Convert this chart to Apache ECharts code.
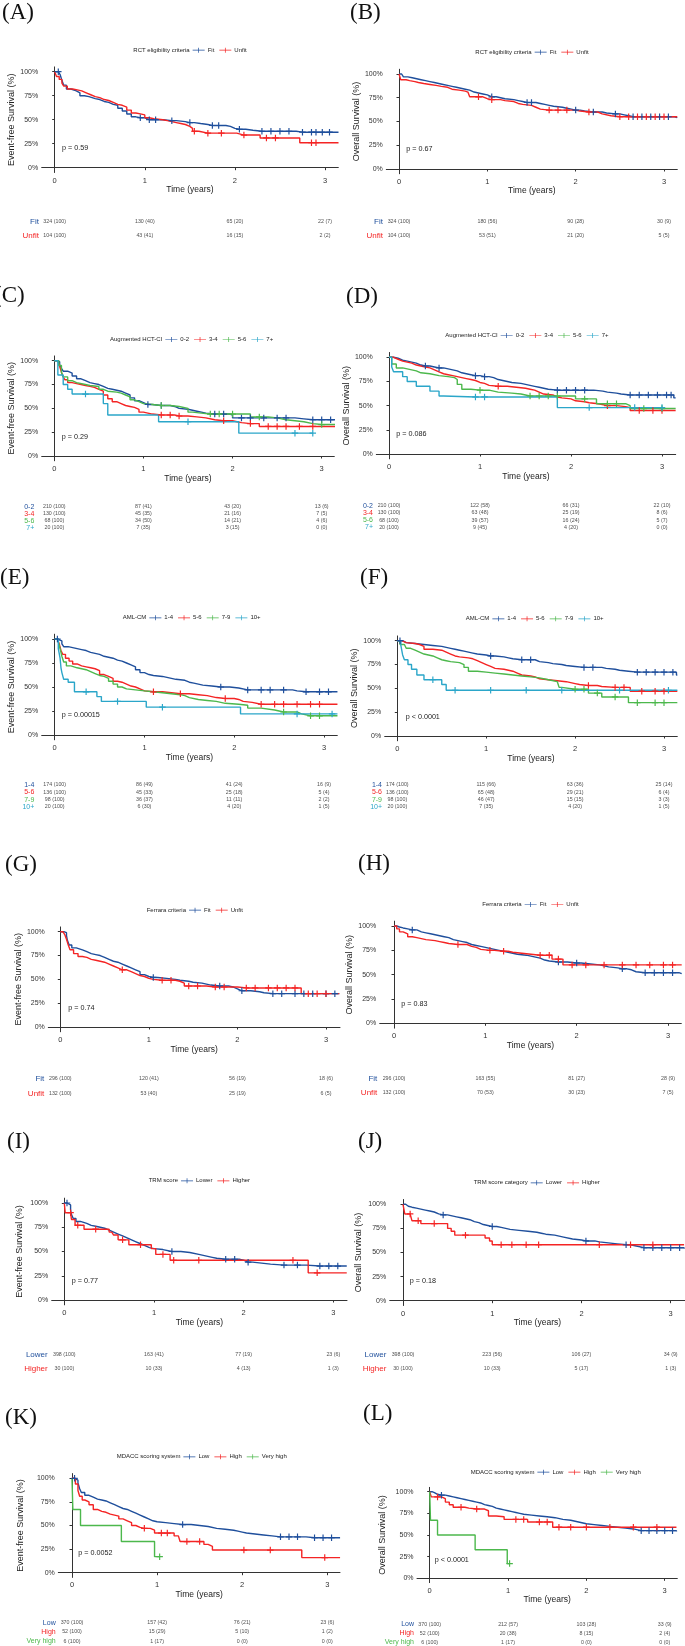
<!DOCTYPE html>
<html>
<head>
<meta charset="utf-8">
<script src="https://cdn.jsdelivr.net/npm/echarts@6/dist/echarts.min.js"></script>
<style>
  html, body { margin: 0; padding: 0; background: #fff; }
  #chart { width: 685px; height: 1646px; }
</style>
</head>
<body>
<div id="chart"></div>
<script>
const xTicks = [0, 1, 2, 3];
const yTicks = [0, 25, 50, 75, 100];
const riskTimes = [0, 1, 2, 3];

// KM curves as [time (years), survival %]; a point repeating the previous value is a censor mark
const A_fit = [[0,100],[0.04,100],[0.06,97],[0.08,91],[0.1,86],[0.13,82],[0.18,80],[0.24,78],[0.28,75],[0.33,74],[0.38,72],[0.45,71],[0.5,69],[0.55,68],[0.6,66],[0.65,65],[0.7,62],[0.75,59],[0.8,56],[0.85,53],[0.9,52],[0.95,52],[1.0,50],[1.05,50],[1.12,50],[1.2,49],[1.3,49],[1.35,48],[1.45,47],[1.5,47],[1.55,46],[1.62,45],[1.7,44],[1.75,44],[1.82,44],[1.9,43],[1.95,41],[2.0,40],[2.05,40],[2.12,39],[2.2,38],[2.3,38],[2.4,38],[2.5,38],[2.6,38],[2.68,37],[2.75,37],[2.85,37],[2.9,37],[2.97,37],[3.05,37],[3.15,37]];
const A_unfit = [[0,100],[0.02,95],[0.05,92],[0.08,88],[0.1,85],[0.14,82],[0.2,81],[0.25,80],[0.3,78],[0.35,76],[0.4,74],[0.45,73],[0.5,71],[0.55,70],[0.6,68],[0.65,66],[0.7,65],[0.75,63],[0.8,60],[0.85,57],[0.9,56],[0.95,55],[1.0,52],[1.05,51],[1.1,50],[1.2,49],[1.25,48],[1.3,47],[1.35,46],[1.4,45],[1.45,43],[1.5,41],[1.53,38],[1.55,38],[1.6,36],[1.7,36],[1.85,36],[2.02,34],[2.1,34],[2.28,31],[2.35,31],[2.45,31],[2.72,26],[2.85,26],[2.9,26],[3.15,26]];
const B_fit = [[0,100],[0.03,99],[0.05,97],[0.1,96],[0.15,95],[0.2,94],[0.25,93],[0.3,92],[0.35,91],[0.4,89],[0.5,88],[0.55,87],[0.6,86],[0.65,85],[0.7,84],[0.75,83],[0.8,81],[0.85,80],[0.9,79],[0.95,78],[1.0,76],[1.05,76],[1.1,75],[1.15,74],[1.2,73],[1.3,72],[1.35,71],[1.4,70],[1.45,70],[1.5,70],[1.55,69],[1.6,68],[1.65,67],[1.7,66],[1.75,65],[1.85,64],[1.9,63],[1.95,62],[2.0,62],[2.05,61],[2.1,60],[2.2,60],[2.3,59],[2.35,58],[2.45,58],[2.5,57],[2.55,56],[2.6,55],[2.65,55],[2.75,55],[2.85,55],[2.95,55],[3.05,55],[3.12,54],[3.15,54]];
const B_unfit = [[0,100],[0.02,94],[0.08,93],[0.12,92],[0.18,91],[0.22,90],[0.28,89],[0.35,88],[0.42,87],[0.48,86],[0.55,84],[0.6,83],[0.68,82],[0.75,81],[0.78,79],[0.8,76],[0.9,76],[0.95,74],[1.0,73],[1.05,73],[1.15,72],[1.2,71],[1.3,69],[1.35,68],[1.4,67],[1.5,65],[1.55,63],[1.6,62],[1.7,62],[1.8,62],[1.9,62],[2.0,61],[2.05,60],[2.15,60],[2.25,58],[2.3,56],[2.4,55],[2.5,55],[2.6,55],[2.7,55],[2.8,55],[2.9,55],[3.0,55],[3.15,55]];
const C_02 = [[0,100],[0.03,99],[0.06,96],[0.08,92],[0.1,89],[0.15,87],[0.2,84],[0.25,81],[0.3,79],[0.35,77],[0.4,76],[0.45,75],[0.5,73],[0.55,71],[0.6,70],[0.65,69],[0.7,68],[0.75,66],[0.8,64],[0.85,61],[0.9,58],[0.95,56],[1.0,54],[1.05,54],[1.1,53],[1.2,53],[1.3,52],[1.35,50],[1.4,49],[1.5,48],[1.55,47],[1.6,46],[1.65,45],[1.7,44],[1.8,44],[1.9,44],[1.97,43],[2.0,40],[2.1,40],[2.2,40],[2.35,40],[2.5,40],[2.6,40],[2.7,39],[2.8,38],[2.9,38],[3.0,38],[3.1,38],[3.15,38]];
const C_34 = [[0,100],[0.04,98],[0.06,94],[0.08,88],[0.1,83],[0.12,80],[0.15,77],[0.2,76],[0.25,75],[0.3,74],[0.35,73],[0.4,72],[0.45,70],[0.5,68],[0.55,64],[0.6,60],[0.65,57],[0.7,55],[0.75,53],[0.8,52],[0.85,51],[0.9,49],[0.95,46],[1.0,45],[1.05,44],[1.1,43],[1.2,43],[1.3,43],[1.35,42],[1.4,42],[1.5,41],[1.6,40],[1.7,38],[1.8,37],[1.9,37],[2.0,36],[2.05,35],[2.1,34],[2.2,34],[2.3,31],[2.4,31],[2.5,31],[2.6,31],[2.75,31],[2.9,31],[3.15,31]];
const C_56 = [[0,100],[0.05,95],[0.08,88],[0.1,83],[0.15,79],[0.2,77],[0.25,75],[0.35,74],[0.4,73],[0.5,70],[0.55,68],[0.6,67],[0.7,66],[0.75,64],[0.8,62],[0.85,59],[0.9,57],[0.95,55],[1.0,54],[1.1,53],[1.2,53],[1.3,52],[1.4,50],[1.5,46],[1.55,45],[1.65,44],[1.75,44],[1.85,44],[2.0,44],[2.2,41],[2.3,41],[2.4,40],[2.5,38],[2.6,37],[2.7,36],[2.8,34],[2.9,33],[3.0,33],[3.15,33]];
const C_7 = [[0,100],[0.04,85],[0.1,75],[0.15,70],[0.2,65],[0.35,65],[0.55,55],[0.6,43],[1.17,36],[1.5,36],[2.07,24],[2.7,24],[2.9,24]];
const D_02 = [[0,100],[0.05,99],[0.1,97],[0.15,96],[0.2,95],[0.25,94],[0.3,92],[0.35,91],[0.4,91],[0.45,90],[0.5,89],[0.55,89],[0.6,88],[0.65,87],[0.7,86],[0.75,84],[0.8,83],[0.85,82],[0.9,81],[0.95,81],[1.0,80],[1.05,80],[1.1,79],[1.15,77],[1.2,75],[1.3,74],[1.35,73],[1.45,72],[1.5,71],[1.55,70],[1.6,69],[1.65,68],[1.7,67],[1.75,66],[1.85,66],[1.95,66],[2.05,66],[2.15,66],[2.25,65],[2.35,64],[2.4,63],[2.5,62],[2.55,61],[2.65,61],[2.75,61],[2.85,61],[2.95,61],[3.05,61],[3.1,61],[3.13,58],[3.15,58]];
const D_34 = [[0,100],[0.05,98],[0.1,96],[0.15,95],[0.2,94],[0.25,92],[0.3,91],[0.35,90],[0.4,89],[0.45,87],[0.5,85],[0.55,83],[0.6,82],[0.65,81],[0.7,80],[0.75,79],[0.8,78],[0.85,77],[0.9,76],[0.95,74],[1.0,73],[1.05,71],[1.1,70],[1.2,70],[1.3,69],[1.4,68],[1.5,67],[1.55,66],[1.6,64],[1.65,62],[1.7,61],[1.8,59],[1.85,58],[1.9,57],[2.0,55],[2.05,54],[2.15,53],[2.2,52],[2.3,50],[2.4,50],[2.5,49],[2.6,48],[2.65,45],[2.75,45],[2.9,45],[3.0,45],[3.15,45]];
const D_56 = [[0,100],[0.03,93],[0.08,89],[0.15,88],[0.2,86],[0.3,84],[0.35,83],[0.45,81],[0.55,80],[0.65,79],[0.72,77],[0.75,72],[0.8,67],[0.9,66],[1.0,66],[1.1,64],[1.2,63],[1.35,62],[1.45,60],[1.55,60],[1.65,60],[1.75,60],[1.85,60],[2.05,57],[2.15,57],[2.28,52],[2.4,52],[2.5,52],[2.6,50],[2.65,47],[2.8,47],[3.0,47],[3.15,47]];
const D_7 = [[0,100],[0.03,90],[0.05,85],[0.15,80],[0.2,75],[0.3,70],[0.45,65],[0.55,60],[0.6,59],[0.95,59],[1.05,59],[1.85,48],[2.2,48],[2.7,48],[3.0,48]];
const E_14 = [[0,100],[0.03,100],[0.05,98],[0.08,95],[0.1,92],[0.15,91],[0.2,90],[0.25,89],[0.3,88],[0.35,86],[0.4,85],[0.45,84],[0.5,82],[0.55,81],[0.6,80],[0.65,78],[0.7,77],[0.75,75],[0.8,73],[0.85,71],[0.9,68],[0.95,65],[1.0,63],[1.05,62],[1.1,61],[1.2,60],[1.25,59],[1.3,58],[1.35,57],[1.45,55],[1.5,54],[1.55,53],[1.6,52],[1.65,51],[1.75,50],[1.85,50],[1.95,49],[2.05,47],[2.15,47],[2.3,47],[2.4,47],[2.55,47],[2.65,46],[2.7,45],[2.8,45],[2.95,45],[3.05,45],[3.15,45]];
const E_56 = [[0,100],[0.03,99],[0.05,95],[0.07,88],[0.09,84],[0.12,80],[0.16,77],[0.2,74],[0.25,72],[0.3,71],[0.35,70],[0.4,69],[0.45,67],[0.5,63],[0.55,61],[0.6,59],[0.65,56],[0.7,55],[0.75,53],[0.8,51],[0.85,50],[0.9,48],[0.95,46],[1.0,45],[1.1,45],[1.2,44],[1.3,43],[1.4,43],[1.5,42],[1.6,41],[1.7,39],[1.8,38],[1.9,38],[2.0,37],[2.05,35],[2.1,34],[2.2,32],[2.3,32],[2.45,32],[2.55,32],[2.7,32],[2.85,32],[2.95,32],[3.15,32]];
const E_79 = [[0,100],[0.04,97],[0.06,90],[0.08,82],[0.1,76],[0.13,72],[0.18,70],[0.25,69],[0.3,68],[0.35,66],[0.4,64],[0.45,62],[0.5,61],[0.55,59],[0.6,56],[0.65,53],[0.7,50],[0.75,48],[0.8,47],[0.9,46],[1.0,45],[1.1,44],[1.2,43],[1.3,42],[1.4,41],[1.45,39],[1.5,37],[1.6,36],[1.7,35],[1.8,33],[1.9,32],[2.05,31],[2.15,28],[2.3,26],[2.45,24],[2.55,24],[2.7,22],[2.75,20],[2.85,20],[2.95,20],[3.15,20]];
const E_10 = [[0,100],[0.04,90],[0.06,80],[0.07,70],[0.08,65],[0.1,58],[0.15,55],[0.22,45],[0.35,45],[0.47,40],[0.52,35],[0.7,35],[1.02,29],[1.2,29],[2.07,22],[2.7,22],[3.09,22],[3.15,22]];
const F_14 = [[0,100],[0.03,100],[0.06,98],[0.1,97],[0.2,96],[0.3,95],[0.4,94],[0.5,93],[0.55,92],[0.6,91],[0.65,90],[0.7,89],[0.75,88],[0.8,87],[0.85,86],[0.9,85],[1.0,84],[1.05,84],[1.1,83],[1.2,82],[1.25,81],[1.3,80],[1.4,80],[1.5,80],[1.55,78],[1.6,77],[1.7,76],[1.75,75],[1.85,74],[1.9,73],[2.0,72],[2.1,72],[2.2,72],[2.3,71],[2.35,70],[2.45,69],[2.5,68],[2.6,67],[2.7,67],[2.8,67],[2.9,67],[3.0,67],[3.1,67],[3.14,64],[3.15,64]];
const F_56 = [[0,100],[0.05,98],[0.1,97],[0.2,96],[0.25,94],[0.3,91],[0.4,90],[0.5,88],[0.55,86],[0.6,84],[0.65,83],[0.7,82],[0.8,81],[0.85,79],[0.9,77],[0.95,75],[1.0,73],[1.05,71],[1.1,70],[1.2,68],[1.3,66],[1.35,64],[1.4,63],[1.5,62],[1.55,60],[1.6,59],[1.7,58],[1.8,57],[1.9,55],[2.0,54],[2.05,53],[2.15,53],[2.25,52],[2.3,51],[2.45,51],[2.55,51],[2.62,47],[2.75,47],[2.9,47],[3.0,47],[3.15,47]];
const F_79 = [[0,100],[0.03,96],[0.08,94],[0.1,92],[0.15,90],[0.2,88],[0.25,86],[0.3,85],[0.35,84],[0.4,82],[0.45,80],[0.5,79],[0.55,78],[0.6,77],[0.7,75],[0.75,72],[0.8,68],[0.9,67],[1.0,66],[1.1,65],[1.2,64],[1.3,63],[1.4,62],[1.5,61],[1.6,59],[1.7,57],[1.8,56],[1.82,51],[1.85,49],[2.0,49],[2.1,49],[2.15,45],[2.25,45],[2.3,41],[2.45,41],[2.6,35],[2.7,35],[2.9,35],[3.0,35],[3.15,35]];
const F_10 = [[0,100],[0.04,95],[0.06,85],[0.08,80],[0.12,75],[0.16,70],[0.22,64],[0.3,59],[0.4,59],[0.5,54],[0.55,48],[0.65,48],[1.05,48],[1.45,48],[1.85,48],[2.5,48],[3.05,48],[3.15,48]];
const G_fit = [[0,100],[0.04,99],[0.07,96],[0.08,91],[0.1,86],[0.13,83],[0.18,81],[0.25,79],[0.3,77],[0.35,76],[0.4,75],[0.45,73],[0.5,71],[0.55,69],[0.6,68],[0.65,66],[0.7,64],[0.75,62],[0.8,60],[0.85,58],[0.9,55],[0.95,53],[1.0,52],[1.05,52],[1.1,51],[1.2,50],[1.3,49],[1.35,48],[1.45,47],[1.5,46],[1.6,45],[1.65,44],[1.7,43],[1.8,43],[1.9,42],[1.95,40],[2.0,38],[2.05,38],[2.15,37],[2.25,36],[2.3,35],[2.4,35],[2.5,35],[2.65,35],[2.75,35],[2.85,35],[3.0,35],[3.1,35],[3.15,35]];
const G_unfit = [[0,100],[0.03,99],[0.05,97],[0.07,92],[0.09,86],[0.11,81],[0.15,77],[0.2,74],[0.25,73],[0.3,71],[0.35,70],[0.4,69],[0.45,68],[0.5,66],[0.55,64],[0.6,62],[0.65,60],[0.7,60],[0.75,58],[0.8,56],[0.85,54],[0.9,53],[0.95,51],[1.0,50],[1.05,49],[1.15,49],[1.25,49],[1.3,48],[1.35,46],[1.4,43],[1.45,43],[1.55,43],[1.65,42],[1.75,42],[1.85,42],[2.0,41],[2.1,41],[2.2,41],[2.35,41],[2.45,41],[2.55,41],[2.65,41],[2.72,35],[2.8,35],[2.9,35],[3.0,35],[3.15,35]];
const H_fit = [[0,100],[0.03,99],[0.06,98],[0.1,97],[0.15,96],[0.2,96],[0.25,94],[0.3,93],[0.35,92],[0.4,91],[0.45,90],[0.5,89],[0.55,88],[0.6,86],[0.65,85],[0.7,84],[0.75,83],[0.8,81],[0.85,80],[0.9,79],[0.95,78],[1.0,77],[1.05,76],[1.1,75],[1.15,74],[1.2,73],[1.25,72],[1.3,71],[1.35,70],[1.45,69],[1.5,68],[1.55,67],[1.6,65],[1.65,64],[1.7,63],[1.8,63],[1.9,62],[2.0,62],[2.05,61],[2.15,60],[2.25,59],[2.3,58],[2.35,57],[2.45,56],[2.5,56],[2.55,55],[2.6,53],[2.65,52],[2.75,52],[2.85,52],[2.95,52],[3.05,52],[3.12,51],[3.15,51]];
const H_unfit = [[0,100],[0.03,97],[0.06,94],[0.1,92],[0.15,89],[0.2,88],[0.25,87],[0.3,86],[0.35,85],[0.45,84],[0.5,83],[0.55,82],[0.6,81],[0.7,81],[0.8,79],[0.85,78],[0.9,76],[0.95,75],[1.05,75],[1.1,74],[1.2,74],[1.25,73],[1.3,72],[1.4,71],[1.5,70],[1.6,70],[1.7,70],[1.73,66],[1.8,66],[1.85,60],[1.95,60],[2.1,60],[2.3,60],[2.5,60],[2.65,60],[2.8,60],[2.95,60],[3.05,60],[3.15,60]];
const I_low = [[0,100],[0.03,100],[0.05,98],[0.07,93],[0.08,88],[0.1,84],[0.13,81],[0.18,79],[0.25,77],[0.3,76],[0.35,75],[0.4,74],[0.45,72],[0.5,70],[0.55,68],[0.6,66],[0.65,64],[0.7,62],[0.75,60],[0.8,58],[0.85,56],[0.9,54],[0.95,53],[1.0,52],[1.1,50],[1.2,50],[1.3,49],[1.4,47],[1.5,46],[1.55,45],[1.6,44],[1.65,43],[1.7,42],[1.8,42],[1.9,42],[1.95,41],[2.0,39],[2.05,39],[2.1,38],[2.2,37],[2.3,36],[2.45,36],[2.6,36],[2.7,35],[2.85,35],[2.95,35],[3.05,35],[3.15,35]];
const I_high = [[0,100],[0.01,90],[0.07,90],[0.08,83],[0.12,77],[0.15,77],[0.22,73],[0.35,73],[0.5,70],[0.53,69],[0.55,67],[0.6,62],[0.65,62],[0.72,57],[0.85,57],[0.97,53],[1.02,47],[1.1,47],[1.18,41],[1.22,41],[1.5,41],[2.55,41],[2.72,28],[2.82,28],[3.15,28]];
const J_low = [[0,100],[0.03,98],[0.06,97],[0.1,96],[0.15,95],[0.2,94],[0.25,93],[0.3,92],[0.35,90],[0.4,89],[0.45,89],[0.5,88],[0.55,87],[0.6,86],[0.65,85],[0.7,84],[0.75,82],[0.8,81],[0.85,79],[0.9,78],[0.95,77],[1.0,77],[1.05,76],[1.1,75],[1.15,74],[1.2,73],[1.3,72],[1.4,71],[1.5,70],[1.55,69],[1.6,68],[1.7,67],[1.75,66],[1.8,64],[1.9,63],[2.0,62],[2.05,62],[2.15,61],[2.2,60],[2.3,59],[2.4,58],[2.5,58],[2.55,57],[2.6,55],[2.7,55],[2.8,55],[2.9,55],[3.0,55],[3.1,55],[3.15,54]];
const J_high = [[0,100],[0.02,90],[0.08,90],[0.1,83],[0.17,83],[0.2,80],[0.35,80],[0.5,75],[0.54,72],[0.58,68],[0.7,68],[0.92,65],[0.97,62],[1.0,58],[1.1,58],[1.22,58],[1.38,58],[1.52,58],[2.2,58],[2.55,58],[2.8,58],[3.15,58]];
const K_low = [[0,100],[0.03,100],[0.05,98],[0.07,95],[0.09,89],[0.11,85],[0.15,82],[0.2,80],[0.25,78],[0.3,77],[0.35,76],[0.4,74],[0.45,72],[0.5,70],[0.55,68],[0.6,67],[0.65,65],[0.7,63],[0.75,61],[0.8,59],[0.85,57],[0.9,55],[0.95,54],[1.0,53],[1.1,52],[1.2,51],[1.3,51],[1.4,50],[1.5,49],[1.6,47],[1.7,46],[1.8,45],[1.9,44],[1.95,43],[2.0,42],[2.05,41],[2.15,40],[2.25,39],[2.35,38],[2.45,38],[2.55,38],[2.65,38],[2.75,37],[2.85,37],[2.95,37],[3.05,37],[3.15,37]];
const K_high = [[0,100],[0.04,94],[0.07,87],[0.09,81],[0.12,77],[0.15,75],[0.2,72],[0.25,67],[0.3,65],[0.35,64],[0.4,62],[0.45,61],[0.5,60],[0.55,57],[0.6,55],[0.65,53],[0.7,50],[0.75,48],[0.8,47],[0.85,47],[0.92,45],[0.97,42],[1.05,42],[1.12,42],[1.2,39],[1.25,37],[1.27,33],[1.35,33],[1.5,33],[1.55,30],[1.6,28],[1.65,24],[2.02,24],[2.33,24],[2.7,16],[2.97,16],[3.15,16]];
const K_vhigh = [[0,100],[0.01,67],[0.1,50],[0.58,33],[0.97,17],[1.03,17]];
const L_low = [[0,100],[0.03,99],[0.06,97],[0.1,96],[0.15,96],[0.2,95],[0.25,94],[0.3,93],[0.35,92],[0.4,91],[0.45,90],[0.5,89],[0.55,88],[0.6,87],[0.65,85],[0.7,84],[0.75,83],[0.8,81],[0.85,80],[0.9,79],[0.95,78],[1.0,77],[1.05,76],[1.1,75],[1.15,74],[1.2,73],[1.3,72],[1.4,71],[1.5,70],[1.6,68],[1.7,67],[1.8,65],[1.9,63],[2.0,62],[2.1,61],[2.2,60],[2.3,59],[2.4,58],[2.5,57],[2.6,55],[2.7,55],[2.8,55],[2.9,55],[3.0,55],[3.1,55],[3.15,54]];
const L_high = [[0,100],[0.02,94],[0.1,94],[0.15,92],[0.2,88],[0.25,85],[0.3,82],[0.4,82],[0.45,81],[0.5,80],[0.6,80],[0.7,78],[0.75,72],[0.85,71],[0.95,68],[1.1,68],[1.2,68],[1.25,65],[1.4,65],[1.5,65],[1.57,59],[1.65,59],[1.8,59],[2.0,59],[2.3,59],[2.6,59],[2.9,59],[3.15,59]];
const L_vhigh = [[0,100],[0.01,67],[0.1,50],[0.58,33],[0.99,17],[1.02,17]];

// numbers at risk (%) at riskTimes
const A_riskFit = ['324 (100)', '130 (40)', '65 (20)', '22 (7)'];
const A_riskUnfit = ['104 (100)', '43 (41)', '16 (15)', '2 (2)'];
const B_riskFit = ['324 (100)', '180 (56)', '90 (28)', '30 (9)'];
const B_riskUnfit = ['104 (100)', '53 (51)', '21 (20)', '5 (5)'];
const C_risk02 = ['210 (100)', '87 (41)', '43 (20)', '13 (6)'];
const C_risk34 = ['130 (100)', '45 (35)', '21 (16)', '7 (5)'];
const C_risk56 = ['68 (100)', '34 (50)', '14 (21)', '4 (6)'];
const C_risk7 = ['20 (100)', '7 (35)', '3 (15)', '0 (0)'];
const D_risk02 = ['210 (100)', '122 (58)', '66 (31)', '22 (10)'];
const D_risk34 = ['130 (100)', '63 (48)', '25 (19)', '8 (6)'];
const D_risk56 = ['68 (100)', '39 (57)', '16 (24)', '5 (7)'];
const D_risk7 = ['20 (100)', '9 (45)', '4 (20)', '0 (0)'];
const E_risk14 = ['174 (100)', '86 (49)', '41 (24)', '16 (9)'];
const E_risk56 = ['136 (100)', '45 (33)', '25 (18)', '5 (4)'];
const E_risk79 = ['98 (100)', '36 (37)', '11 (11)', '2 (2)'];
const E_risk10 = ['20 (100)', '6 (30)', '4 (20)', '1 (5)'];
const F_risk14 = ['174 (100)', '115 (66)', '63 (36)', '25 (14)'];
const F_risk56 = ['136 (100)', '65 (48)', '29 (21)', '6 (4)'];
const F_risk79 = ['98 (100)', '46 (47)', '15 (15)', '3 (3)'];
const F_risk10 = ['20 (100)', '7 (35)', '4 (20)', '1 (5)'];
const G_riskFit = ['296 (100)', '120 (41)', '56 (19)', '18 (6)'];
const G_riskUnfit = ['132 (100)', '53 (40)', '25 (19)', '6 (5)'];
const H_riskFit = ['296 (100)', '163 (55)', '81 (27)', '28 (9)'];
const H_riskUnfit = ['132 (100)', '70 (53)', '30 (23)', '7 (5)'];
const I_riskLow = ['398 (100)', '163 (41)', '77 (19)', '23 (6)'];
const I_riskHigh = ['30 (100)', '10 (33)', '4 (13)', '1 (3)'];
const J_riskLow = ['398 (100)', '223 (56)', '106 (27)', '34 (9)'];
const J_riskHigh = ['30 (100)', '10 (33)', '5 (17)', '1 (3)'];
const K_riskLow = ['370 (100)', '157 (42)', '76 (21)', '23 (6)'];
const K_riskHigh = ['52 (100)', '15 (29)', '5 (10)', '1 (2)'];
const K_riskVhigh = ['6 (100)', '1 (17)', '0 (0)', '0 (0)'];
const L_riskLow = ['370 (100)', '212 (57)', '103 (28)', '33 (9)'];
const L_riskHigh = ['52 (100)', '20 (38)', '8 (15)', '2 (4)'];
const L_riskVhigh = ['6 (100)', '1 (17)', '0 (0)', '0 (0)'];

const BLUE = '#1f4f9c', RED = '#f42424', GREEN = '#4cb84c', CYAN = '#2ba6c9';
const EFS = 'Event-free Survival (%)', OS = 'Overall Survival (%)';

// box: pixel layout of each panel (y-axis line, x=0 / x=3 positions, right edge, 100% / 0% rows, etc.)
const panels = [
  { tag: '(A)', lg: 'RCT eligibility criteria', yName: EFS, p: 'p = 0.59',
    groups: [['Fit', BLUE, A_fit, A_riskFit], ['Unfit', RED, A_unfit, A_riskUnfit]],
    box: { left: 41.7, x0: 54.7, x3: 325, right: 338.3, y100: 71.7, y0: 167.7, lgX: 133.3, lgY: 50.7, tagX: 2, tagY: 14,
      rows: [221.7, 236], rowR: 39, pX: 62, pY: 149, yTitleX: 13.3, xTitleY: 189 } },
  { tag: '(B)', lg: 'RCT eligibility criteria', yName: OS, p: 'p = 0.67',
    groups: [['Fit', BLUE, B_fit, B_riskFit], ['Unfit', RED, B_unfit, B_riskUnfit]],
    box: { left: 386.3, x0: 399, x3: 664, right: 677.3, y100: 74, y0: 169, lgX: 475.3, lgY: 52.7, tagX: 350, tagY: 14,
      rows: [221.7, 235.3], rowR: 383, pX: 406.3, pY: 150, yTitleX: 358, xTitleY: 189 } },
  { tag: '(C)', lg: 'Augmented HCT-CI', yName: EFS, p: 'p = 0.29',
    groups: [['0-2', BLUE, C_02, C_risk02], ['3-4', RED, C_34, C_risk34], ['5-6', GREEN, C_56, C_risk56], ['7+', CYAN, C_7, C_risk7]],
    box: { left: 41.7, x0: 54.3, x3: 321.7, right: 334.3, y100: 360.7, y0: 456, lgX: 110, lgY: 340, tagX: -6, tagY: 297,
      rows: [506.7, 513.7, 520.7, 527.7], rowR: 34.3, pX: 61.7, pY: 437.3, yTitleX: 12.7, xTitleY: 477 } },
  { tag: '(D)', lg: 'Augmented HCT-CI', yName: OS, p: 'p = 0.086',
    groups: [['0-2', BLUE, D_02, D_risk02], ['3-4', RED, D_34, D_risk34], ['5-6', GREEN, D_56, D_risk56], ['7+', CYAN, D_7, D_risk7]],
    box: { left: 376.3, x0: 389, x3: 662, right: 675.7, y100: 357.3, y0: 454, lgX: 445.3, lgY: 336, tagX: 346, tagY: 298,
      rows: [505.7, 512.7, 520, 527.3], rowR: 373, pX: 396.3, pY: 435, yTitleX: 346.3, xTitleY: 475.7 } },
  { tag: '(E)', lg: 'AML-CM', yName: EFS, p: 'p = 0.00015',
    groups: [['1-4', BLUE, E_14, E_risk14], ['5-6', RED, E_56, E_risk56], ['7-9', GREEN, E_79, E_risk79], ['10+', CYAN, E_10, E_risk10]],
    box: { left: 41.7, x0: 54.7, x3: 324, right: 337.3, y100: 639, y0: 735, lgX: 122.7, lgY: 618.3, tagX: 0, tagY: 579,
      rows: [785, 792.3, 799.7, 807], rowR: 34.3, pX: 61.7, pY: 716, yTitleX: 13.3, xTitleY: 756 } },
  { tag: '(F)', lg: 'AML-CM', yName: OS, p: 'p < 0.0001',
    groups: [['1-4', BLUE, F_14, F_risk14], ['5-6', RED, F_56, F_risk56], ['7-9', GREEN, F_79, F_risk79], ['10+', CYAN, F_10, F_risk10]],
    box: { left: 384.7, x0: 397.3, x3: 664, right: 677.3, y100: 640.7, y0: 736, lgX: 465.7, lgY: 619.3, tagX: 360, tagY: 579,
      rows: [785, 792.3, 799.7, 807], rowR: 382, pX: 405.7, pY: 717.3, yTitleX: 358, xTitleY: 756 } },
  { tag: '(G)', lg: 'Ferrara criteria', yName: EFS, p: 'p = 0.74',
    groups: [['Fit', BLUE, G_fit, G_riskFit], ['Unfit', RED, G_unfit, G_riskUnfit]],
    box: { left: 48.3, x0: 60.3, x3: 326, right: 340, y100: 931.7, y0: 1027, lgX: 146.7, lgY: 910.7, tagX: 5, tagY: 866,
      rows: [1079, 1093.3], rowR: 44.3, pX: 68.3, pY: 1008.3, yTitleX: 20, xTitleY: 1047.7 } },
  { tag: '(H)', lg: 'Ferrara criteria', yName: OS, p: 'p = 0.83',
    groups: [['Fit', BLUE, H_fit, H_riskFit], ['Unfit', RED, H_unfit, H_riskUnfit]],
    box: { left: 379.7, x0: 394, x3: 668, right: 681.3, y100: 926, y0: 1023.3, lgX: 482.3, lgY: 905, tagX: 358, tagY: 865,
      rows: [1078.3, 1092.7], rowR: 377.3, pX: 401.3, pY: 1004.3, yTitleX: 352.3, xTitleY: 1045 } },
  { tag: '(I)', lg: 'TRM score', yName: EFS, p: 'p = 0.77',
    groups: [['Lower', BLUE, I_low, I_riskLow], ['Higher', RED, I_high, I_riskHigh]],
    box: { left: 51.7, x0: 64.3, x3: 333.3, right: 347, y100: 1203, y0: 1300, lgX: 148.7, lgY: 1181.3, tagX: 7, tagY: 1143,
      rows: [1355, 1368.3], rowR: 47.7, pX: 71.7, pY: 1281.7, yTitleX: 20, xTitleY: 1320 } },
  { tag: '(J)', lg: 'TRM score category', yName: OS, p: 'p = 0.18',
    groups: [['Lower', BLUE, J_low, J_riskLow], ['Higher', RED, J_high, J_riskHigh]],
    box: { left: 389.7, x0: 403, x3: 670.7, right: 685, y100: 1204.3, y0: 1300.7, lgX: 473.7, lgY: 1183.3, tagX: 358, tagY: 1143,
      rows: [1355, 1368.3], rowR: 386.3, pX: 409.7, pY: 1281.7, yTitleX: 359, xTitleY: 1320.7 } },
  { tag: '(K)', lg: 'MDACC scoring system', yName: EFS, p: 'p = 0.0052',
    groups: [['Low', BLUE, K_low, K_riskLow], ['High', RED, K_high, K_riskHigh], ['Very high', GREEN, K_vhigh, K_riskVhigh]],
    box: { left: 58.3, x0: 72, x3: 327.3, right: 340, y100: 1478.3, y0: 1572.7, lgX: 116.7, lgY: 1457.3, tagX: 5, tagY: 1419,
      rows: [1622.7, 1632, 1641.3], rowR: 55.7, pX: 78.3, pY: 1553.7, yTitleX: 20.7, xTitleY: 1592.7 } },
  { tag: '(L)', lg: 'MDACC scoring system', yName: OS, p: 'p < 0.0001',
    groups: [['Low', BLUE, L_low, L_riskLow], ['High', RED, L_high, L_riskHigh], ['Very high', GREEN, L_vhigh, L_riskVhigh]],
    box: { left: 417, x0: 429.7, x3: 664.7, right: 677.3, y100: 1491.7, y0: 1578.3, lgX: 470.7, lgY: 1472.7, tagX: 363, tagY: 1415,
      rows: [1624.3, 1633.3, 1642.3], rowR: 414, pX: 434.7, pY: 1561, yTitleX: 382.3, xTitleY: 1596.7 } }
];

const PLUS = 'path://M4.1,0h1.8v4.1h4.1v1.8h-4.1v4.1h-1.8v-4.1h-4.1v-1.8h4.1z';
const LEGEND_ICON = 'path://M0,4.3h24v1.4H0z M11.3,0h1.4v10h-1.4z';
const FONT = 'Liberation Sans, Arial, sans-serif';

const measure = document.createElement('canvas').getContext('2d');
function textWidth(t, size) {
  measure.font = size + 'px ' + FONT;
  return measure.measureText(t).width;
}

const grid = [], xAxis = [], yAxis = [], series = [], legend = [], graphic = [];

panels.forEach((pn, i) => {
  const b = pn.box;
  const unit = (b.x3 - b.x0) / 3;
  const xMin = (b.left - b.x0) / unit;
  const xMax = (b.right - b.x0) / unit;
  const span = b.y0 - b.y100;
  const top = b.y100 - 0.05 * span;
  const height = 1.1 * span;
  const pid = 'P' + i + '|';

  // survival plot
  grid.push({ left: b.left, top: top, width: b.right - b.left, height: height, outerBoundsMode: 'none' });
  xAxis.push({
    gridIndex: 2 * i, type: 'value', min: xMin, max: xMax,
    name: 'Time (years)', nameLocation: 'middle', nameGap: b.xTitleY - (top + height) - 4.5,
    nameTextStyle: { fontSize: 8.5, color: '#222', fontFamily: FONT },
    axisLine: { lineStyle: { color: '#333', width: 1 } },
    axisTick: { show: true, length: 2.5, customValues: xTicks, lineStyle: { color: '#333' } },
    axisLabel: { customValues: xTicks, fontSize: 7.5, color: '#333', margin: 4, fontFamily: FONT },
    splitLine: { show: false }
  });
  yAxis.push({
    gridIndex: 2 * i, type: 'value', min: -5, max: 105,
    name: pn.yName, nameLocation: 'middle', nameRotate: 90, nameGap: b.left - b.yTitleX - 4.5,
    nameTextStyle: { fontSize: 9, color: '#222', fontFamily: FONT },
    axisLine: { show: true, lineStyle: { color: '#333', width: 1 } },
    axisTick: { show: true, length: 2.5, customValues: yTicks, lineStyle: { color: '#333' } },
    axisLabel: { customValues: yTicks, fontSize: 7, color: '#333', margin: 3.5, fontFamily: FONT, formatter: v => v + '%' },
    splitLine: { show: false }
  });

  pn.groups.forEach(([name, color, curve]) => {
    const n = curve.length;
    series.push({
      name: pid + name, type: 'line', step: 'end',
      xAxisIndex: 2 * i, yAxisIndex: 2 * i,
      symbol: 'none', showSymbol: true, showAllSymbol: true, clip: true, silent: true,
      lineStyle: { color: color, width: 1.4 },
      itemStyle: { color: color, borderWidth: 0 },
      data: curve.map((pt, k) => {
        const censored = k > 0 && pt[1] === curve[k - 1][1] && (k < n - 1 || pt[0] < 3.1);
        return censored ? { value: pt, symbol: PLUS, symbolSize: 6.5 } : { value: pt };
      })
    });
  });

  // legend: title text + items
  const titleW = textWidth(pn.lg, 6);
  graphic.push({ type: 'text', left: b.lgX, top: b.lgY - 3.5,
    style: { text: pn.lg, fontSize: 6, fill: '#222', fontFamily: FONT } });
  legend.push({
    left: b.lgX + titleW + 3, top: b.lgY - 3.5, padding: 0, itemGap: 5,
    itemWidth: 12, itemHeight: 6, selectedMode: false,
    textStyle: { fontSize: 6, color: '#222', fontFamily: FONT, padding: [0, 0, 0, -2] },
    formatter: nm => nm.split('|')[1],
    data: pn.groups.map(g => ({ name: pid + g[0], icon: LEGEND_ICON }))
  });

  // p-value and panel tag
  graphic.push({ type: 'text', left: b.pX, top: b.pY - 4,
    style: { text: pn.p, fontSize: 7.2, fill: '#222', fontFamily: FONT } });
  graphic.push({ type: 'text', left: b.tagX, top: b.tagY - 13,
    style: { text: pn.tag, fontSize: 23, fill: '#111', fontFamily: 'Liberation Serif, Times New Roman, serif' } });

  // risk table, on the same time scale
  const nr = b.rows.length;
  const d = (b.rows[nr - 1] - b.rows[0]) / (nr - 1);
  const names = pn.groups.map(g => g[0]);
  const colors = pn.groups.map(g => g[1]);
  grid.push({ left: b.left, top: b.rows[0] - d / 2, width: b.right - b.left, height: nr * d, outerBoundsMode: 'none' });
  xAxis.push({ gridIndex: 2 * i + 1, type: 'value', min: xMin, max: xMax, show: false });
  yAxis.push({
    gridIndex: 2 * i + 1, type: 'category', inverse: true, data: names,
    axisLine: { show: false }, axisTick: { show: false }, splitLine: { show: false },
    axisLabel: { interval: 0, hideOverlap: false, fontSize: nr > 2 ? 7 : 8, margin: b.left - b.rowR, fontFamily: FONT,
      color: (v, idx) => colors[names.indexOf(v)] }
  });
  const cells = [];
  pn.groups.forEach(([name, , , risk]) => {
    riskTimes.forEach((t, k) => cells.push([t, name, risk[k]]));
  });
  series.push({
    type: 'scatter', xAxisIndex: 2 * i + 1, yAxisIndex: 2 * i + 1,
    symbolSize: 0, silent: true, itemStyle: { color: 'transparent' },
    label: { show: true, position: 'inside', fontSize: 5.3, color: '#222', fontFamily: FONT,
      formatter: p => p.value[2] },
    data: cells
  });
});

const chart = echarts.init(document.getElementById('chart'), null, { renderer: 'canvas' });
chart.setOption({
  backgroundColor: '#fff',
  animation: false,
  grid, xAxis, yAxis, series, legend, graphic
});
</script>
</body>
</html>
